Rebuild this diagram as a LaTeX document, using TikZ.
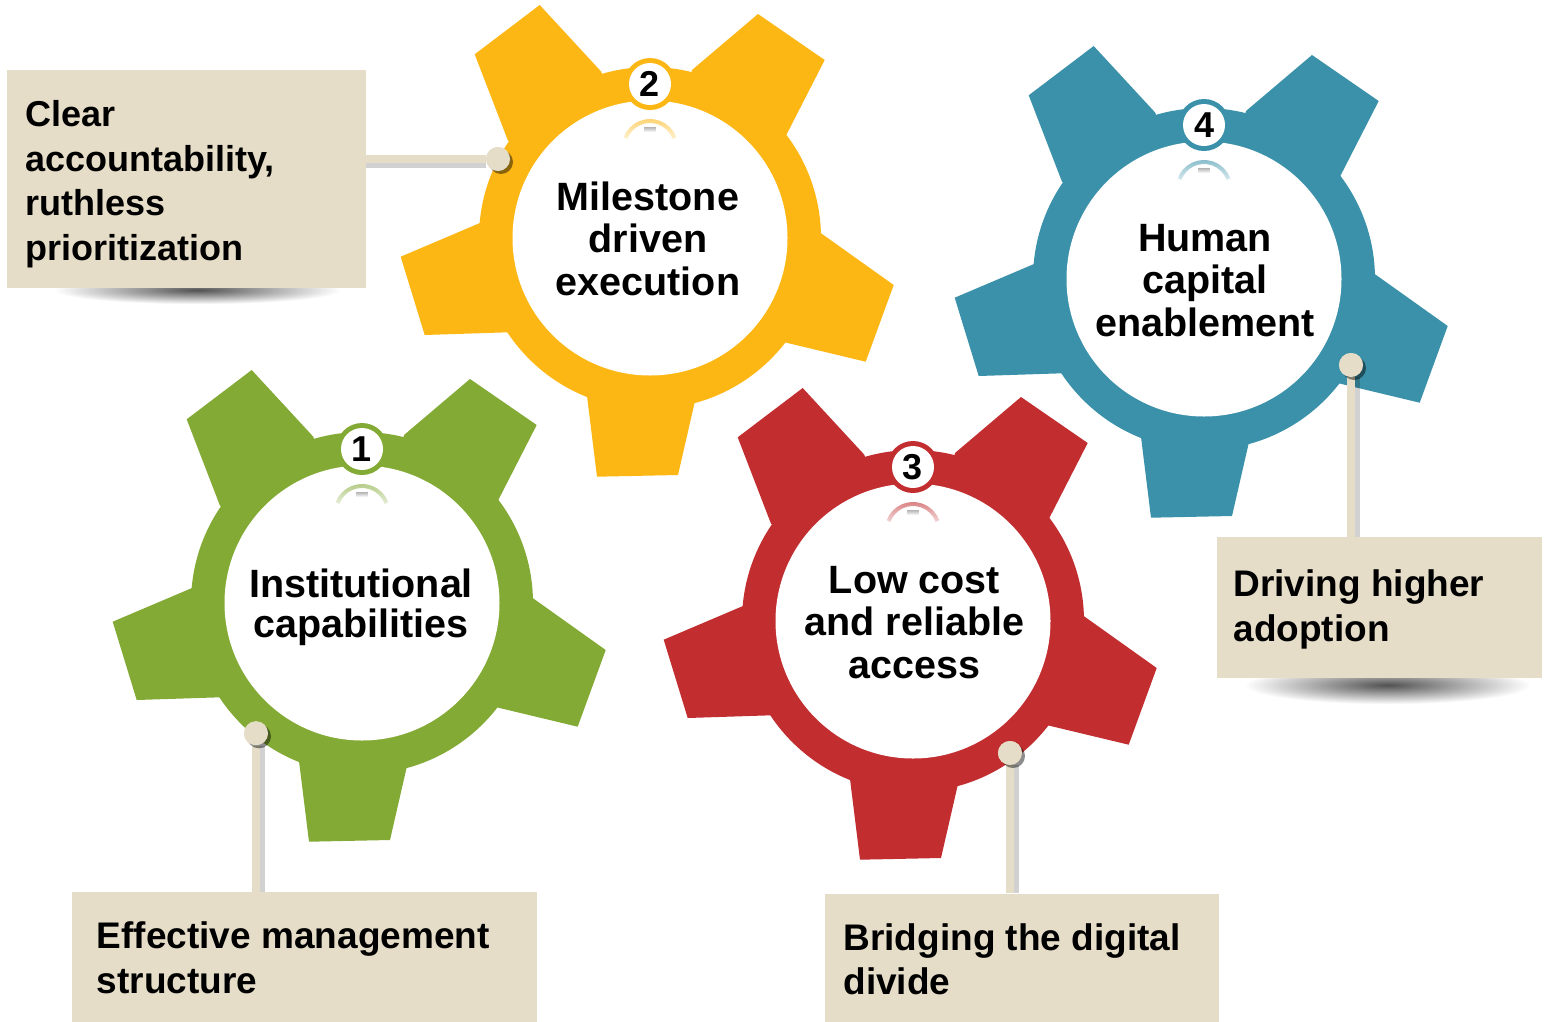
\documentclass[tikz,border=0pt]{standalone}
\usepackage{fontspec}
\setmainfont{Liberation Sans}
\usetikzlibrary{fadings}
\definecolor{gGreen}{HTML}{84AA36}
\definecolor{gYellow}{HTML}{FDB714}
\definecolor{gRed}{HTML}{C22D30}
\definecolor{gTeal}{HTML}{3A91A9}
\definecolor{beige}{HTML}{E5DDC8}
\tikzfading[name=reflfade, top color=transparent!35, bottom color=transparent!100]
\tikzfading[name=shfade, inner color=transparent!20, outer color=transparent!100]
\newcommand{\drawgear}[4]{% #1 name, #2 position, #3 colour, #4 number
  \begin{scope}[shift={#2}]
    \fill[#3] (0,0) circle (171);
    \fill[#3] (0,0) -- (42,-168) -- (108,-224) -- (174.7,-178) -- (136.3,-103) -- cycle;
    \fill[#3] (0,0) -- (169.7,-5.7) -- (243.7,47) -- (215.7,123.7) -- (134.7,104.3) -- cycle;
    \fill[#3] (0,0) -- (44.7,164.3) -- (28,237) -- (-53,238.7) -- (-63,158) -- cycle;
    \fill[#3] (0,0) -- (-142,94.3) -- (-225.3,97) -- (-249.3,18.7) -- (-169.3,-15.3) -- cycle;
    \fill[#3] (0,0) -- (-142,-97.3) -- (-175.3,-183.7) -- (-110.3,-233) -- (-48.7,-166.3) -- cycle;
    \fill[white] (0,0) circle (137.5);
    \draw[#3, line width=4pt, path fading=reflfade] (0,-91) ++(200:26) arc[start angle=200, end angle=340, radius=26];
    \fill[black!45, path fading=reflfade] (-6,-111) rectangle (6,-106);
    \fill[#3] (0,-154) circle (26);
    \node[badge] (#1n) at (0,-154) {#4};
  \end{scope}}
\begin{document}
\begin{tikzpicture}[x=1pt,y=-1pt,
  gtext/.style={font=\fontsize{39.5}{42.5}\selectfont\bfseries, align=center, inner sep=0pt, anchor=base},
  btext/.style={font=\fontsize{37}{45}\selectfont\bfseries, align=left, inner sep=0pt, anchor=base west},
  badge/.style={circle, fill=white, minimum size=42pt, inner sep=0pt, font=\fontsize{36}{36}\selectfont\bfseries},
  cbox/.style={fill=beige, inner sep=0pt, anchor=north west},
  cdot/.style={circle, fill=beige, minimum size=24pt, inner sep=0pt},
  conn/.style={draw=beige, line width=8pt},
  connsh/.style={draw=black, opacity=0.18, line width=7pt},
  dotsh/.style={fill=black, opacity=0.45}]
\useasboundingbox (0,0) rectangle (1548,1021);
\fill[white] (0,0) rectangle (1548,1021);

% gears
\drawgear{g1}{(362,603)}{gGreen}{1}
\drawgear{g2}{(650,238)}{gYellow}{2}
\drawgear{g3}{(913,621)}{gRed}{3}
\drawgear{g4}{(1204,279)}{gTeal}{4}

% gear texts (anchor = baseline of the last line)
\node[gtext, font=\fontsize{39.5}{40.5}\selectfont\bfseries] (t1) at (361,637.8) {Institutional\\capabilities};
\node[gtext] (t2) at (648,295) {Milestone\\driven\\execution};
\node[gtext] (t3) at (914.5,678.3) {Low cost\\and reliable\\access};
\node[gtext] (t4) at (1205,336) {Human\\capital\\enablement};

% box shadows
\fill[black, opacity=0.85, path fading=shfade] (55,276) rectangle (340,304);
\fill[black, opacity=0.85, path fading=shfade] (1245,666) rectangle (1530,704);

% boxes
\node[cbox, minimum width=359pt, minimum height=218.5pt] (b1) at (7,69.5) {};
\node[cbox, minimum width=324.5pt, minimum height=140.5pt] (b2) at (1217,537) {};
\node[cbox, minimum width=465pt, minimum height=130pt] (b3) at (71.7,891.7) {};
\node[cbox, minimum width=394pt, minimum height=128pt] (b4) at (825,893.3) {};

% dots (positions)
\node[cdot] (d1) at (498,159) {};
\node[cdot] (d2) at (1351,365) {};
\node[cdot] (d3) at (256,733.3) {};
\node[cdot] (d4) at (1010,753) {};

% connector shadows
\draw[connsh, transform canvas={yshift=-5pt}] (b1.east |- d1) -- (d1);
\draw[connsh, transform canvas={xshift=5pt}] (d2) -- (d2 |- b2.north);
\draw[connsh, transform canvas={xshift=5pt}] (d3) -- (d3 |- b3.north);
\draw[connsh, transform canvas={xshift=5pt}] (d4) -- (d4 |- b4.north);
% connectors
\draw[conn] (b1.east |- d1) -- (d1);
\draw[conn] (d2) -- (d2 |- b2.north);
\draw[conn] (d3) -- (d3 |- b3.north);
\draw[conn] (d4) -- (d4 |- b4.north);
% dot shadows and dots
\foreach \d in {d1,d2,d3,d4}{
  \fill[dotsh, transform canvas={xshift=3pt,yshift=-3pt}] (\d) circle (12);
}
\node[cdot] at (d1) {};
\node[cdot] at (d2) {};
\node[cdot] at (d3) {};
\node[cdot] at (d4) {};

% box texts (anchor = baseline of the last line)
\node[btext, font=\fontsize{36}{44.5}\selectfont\bfseries] (tb1) at (25,260.2) {Clear\\accountability,\\ruthless\\prioritization};
\node[btext] (tb2) at (1233.3,641.7) {Driving higher\\adoption};
\node[btext] (tb3) at (96.7,993.3) {Effective management\\structure};
\node[btext, font=\fontsize{37}{44.5}\selectfont\bfseries] (tb4) at (843.3,994.5) {Bridging the digital\\divide};
\end{tikzpicture}
\end{document}
